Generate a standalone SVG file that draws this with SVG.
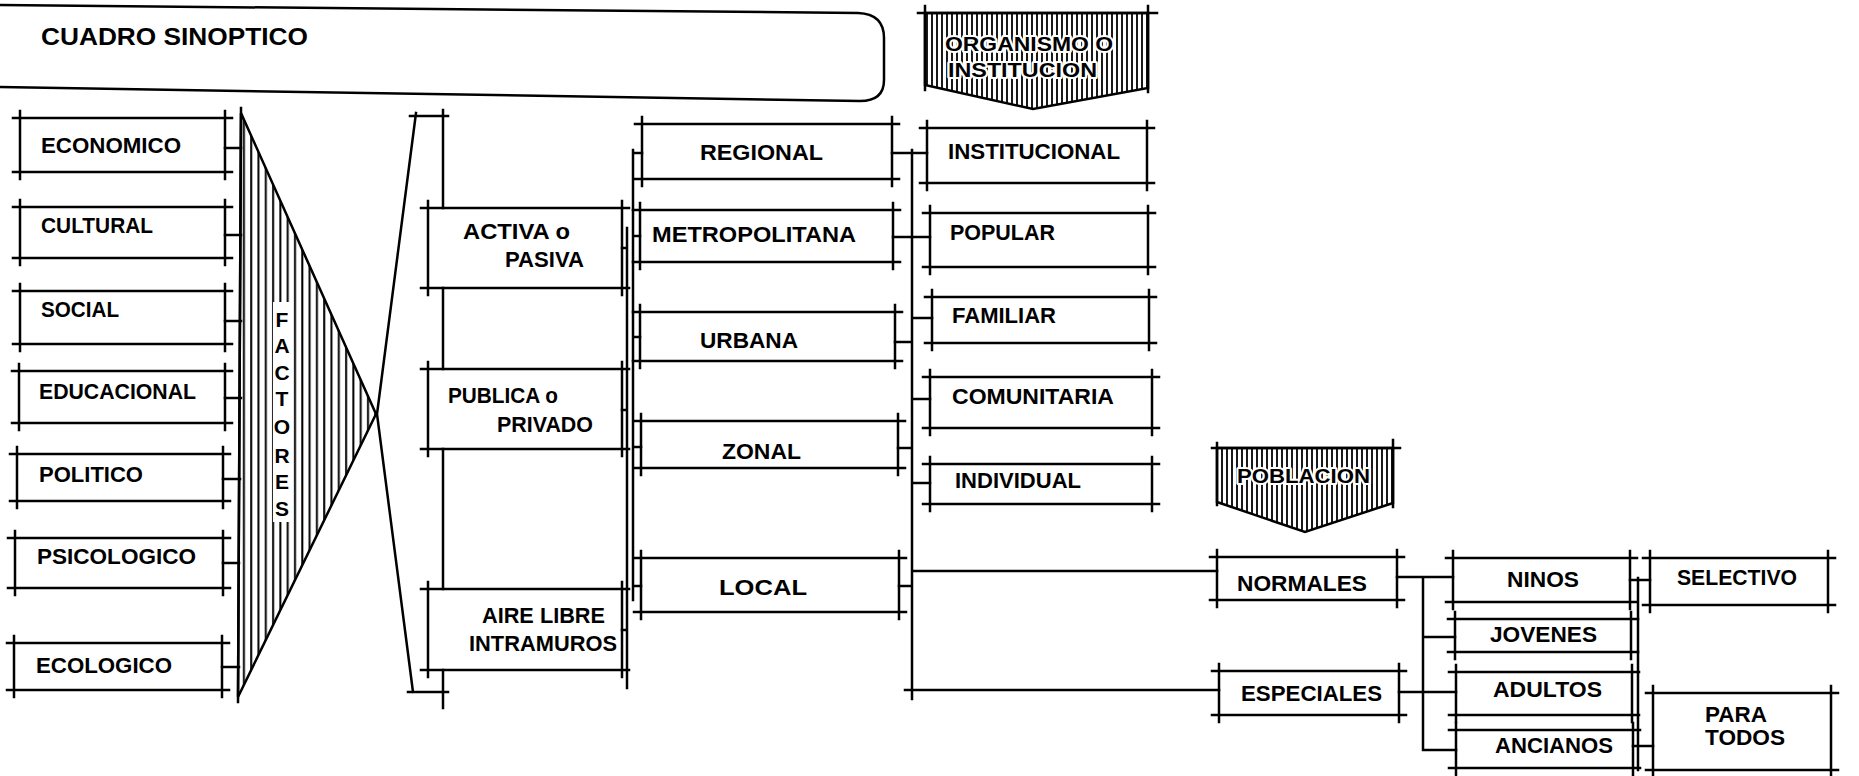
<svg xmlns="http://www.w3.org/2000/svg" width="1859" height="776" viewBox="0 0 1859 776">
<style>
.ln{fill:none;stroke:#000;stroke-width:2.5;stroke-linecap:square}
.t{font-family:"Liberation Sans",Arial,Helvetica,sans-serif;font-weight:bold;font-size:22px;fill:#000}
.ttl{font-size:24px}
.h{font-family:"Liberation Sans",Arial,Helvetica,sans-serif;font-weight:bold;font-size:20px;fill:#000;stroke:#fff;stroke-width:4;paint-order:stroke;stroke-linejoin:round}
.v{font-family:"Liberation Sans",Arial,Helvetica,sans-serif;font-weight:bold;font-size:21px;fill:#000;text-anchor:middle}
</style>
<defs>
<pattern id="hatchA" patternUnits="userSpaceOnUse" x="0" y="0" width="7.3" height="20">
<line x1="3" y1="0" x2="3" y2="20" stroke="#000" stroke-width="2"/>
</pattern>
<pattern id="hatchB" patternUnits="userSpaceOnUse" x="0" y="0" width="5" height="20">
<line x1="2" y1="0" x2="2" y2="20" stroke="#000" stroke-width="1.8"/>
</pattern>
</defs>
<rect width="1859" height="776" fill="#fff"/>

<g id="titulo">
<path class="ln" d="M0,5 L858,13 Q884,14 884,38 L884,80 Q884,101 860,101 L0,87"/>
<text class="t ttl" x="41" y="45" textLength="267" lengthAdjust="spacingAndGlyphs">CUADRO SINOPTICO</text>
</g>

<g id="connectors" class="ln">
<path d="M225,148H241M225,235H241M225,321H241M225,398H241M223,479H240M223,563H239M222,667H239"/>
<path d="M448,116H410M416,113L377,414L413,692M408,692H448"/>
<path d="M443,110V208M443,288V369M443,449V589M443,670V708"/>
<path d="M627,228V688M622,248H627M622,410H627M622,630H627"/>
<path d="M633,150V600M633,153H642M633,236H640M633,337H640M633,447H641M633,586H641"/>
<path d="M912,150V699M892,153H927M893,237H930M895,342H912M912,318H932M898,448H912M912,399H930M912,483H930M899,586H912M912,571H1217M905,690H1219"/>
<path d="M1423,577V750M1397,577H1453M1423,637H1455M1399,692H1456M1423,750H1456"/>
<path d="M1638,578V770M1630,580H1650M1633,746H1653"/>
</g>

<g id="factores">
<polygon points="241,113 376,414 238,697" fill="url(#hatchA)" stroke="#000" stroke-width="2.5" stroke-linejoin="miter"/>
<path class="ln" d="M241,108L238,702"/>
<rect x="273" y="302" width="18" height="220" fill="#fff"/>
<text class="v"><tspan x="282" y="327">F</tspan><tspan x="282" y="353">A</tspan><tspan x="282" y="380">C</tspan><tspan x="282" y="406">T</tspan><tspan x="282" y="434">O</tspan><tspan x="282" y="463">R</tspan><tspan x="282" y="489">E</tspan><tspan x="282" y="516">S</tspan></text>
</g>

<g id="economico"><path class="ln" d="M13,118H232M13,172H232M20,111V179M225,111V179"/><text class="t" x="41" y="153" textLength="140" lengthAdjust="spacingAndGlyphs">ECONOMICO</text></g>
<g id="cultural"><path class="ln" d="M13,207H232M13,258H232M20,200V265M225,200V265"/><text class="t" x="41" y="233" textLength="112" lengthAdjust="spacingAndGlyphs">CULTURAL</text></g>
<g id="social"><path class="ln" d="M13,291H232M13,344H232M20,284V351M225,284V351"/><text class="t" x="41" y="317" textLength="78" lengthAdjust="spacingAndGlyphs">SOCIAL</text></g>
<g id="educacional"><path class="ln" d="M12,371H232M12,423H232M19,364V430M225,364V430"/><text class="t" x="39" y="399" textLength="157" lengthAdjust="spacingAndGlyphs">EDUCACIONAL</text></g>
<g id="politico"><path class="ln" d="M10,454H230M10,501H230M17,447V508M223,447V508"/><text class="t" x="39" y="482" textLength="104" lengthAdjust="spacingAndGlyphs">POLITICO</text></g>
<g id="psicologico"><path class="ln" d="M8,538H230M8,588H230M15,531V595M223,531V595"/><text class="t" x="37" y="564" textLength="159" lengthAdjust="spacingAndGlyphs">PSICOLOGICO</text></g>
<g id="ecologico"><path class="ln" d="M7,643H229M7,690H229M14,636V697M222,636V697"/><text class="t" x="36" y="673" textLength="136" lengthAdjust="spacingAndGlyphs">ECOLOGICO</text></g>

<g id="activa"><path class="ln" d="M421,208H629M421,288H629M428,201V295M622,201V295"/><text class="t" x="463" y="239" textLength="107" lengthAdjust="spacingAndGlyphs">ACTIVA o</text><text class="t" x="505" y="267" textLength="79" lengthAdjust="spacingAndGlyphs">PASIVA</text></g>
<g id="publica"><path class="ln" d="M421,369H629M421,449H629M428,362V456M622,362V456"/><text class="t" x="448" y="403" textLength="110" lengthAdjust="spacingAndGlyphs">PUBLICA o</text><text class="t" x="497" y="432" textLength="96" lengthAdjust="spacingAndGlyphs">PRIVADO</text></g>
<g id="aire"><path class="ln" d="M421,589H629M421,670H629M428,582V677M622,582V677"/><text class="t" x="482" y="623" textLength="123" lengthAdjust="spacingAndGlyphs">AIRE LIBRE</text><text class="t" x="469" y="651" textLength="148" lengthAdjust="spacingAndGlyphs">INTRAMUROS</text></g>

<g id="regional"><path class="ln" d="M635,124H899M635,179H899M642,117V186M892,117V186"/><text class="t" x="700" y="160" textLength="123" lengthAdjust="spacingAndGlyphs">REGIONAL</text></g>
<g id="metropolitana"><path class="ln" d="M633,210H900M633,262H900M640,203V269M893,203V269"/><text class="t" x="652" y="242" textLength="204" lengthAdjust="spacingAndGlyphs">METROPOLITANA</text></g>
<g id="urbana"><path class="ln" d="M633,312H902M633,361H902M640,305V368M895,305V368"/><text class="t" x="700" y="348" textLength="98" lengthAdjust="spacingAndGlyphs">URBANA</text></g>
<g id="zonal"><path class="ln" d="M634,421H905M634,468H905M641,414V475M898,414V475"/><text class="t" x="722" y="459" textLength="79" lengthAdjust="spacingAndGlyphs">ZONAL</text></g>
<g id="local"><path class="ln" d="M634,558H906M634,612H906M641,551V619M899,551V619"/><text class="t" x="719" y="595" textLength="88" lengthAdjust="spacingAndGlyphs">LOCAL</text></g>

<g id="organismo">
<polygon points="925,13 1148,13 1148,88 1033,109 925,85" fill="url(#hatchB)" stroke="#000" stroke-width="2.5"/>
<path class="ln" d="M918,13H1157M925,6V90M1148,6V92"/>
<text class="h" x="945" y="51" textLength="168" lengthAdjust="spacingAndGlyphs">ORGANISMO O</text>
<text class="h" x="948" y="77" textLength="149" lengthAdjust="spacingAndGlyphs">INSTITUCION</text>
</g>

<g id="institucional"><path class="ln" d="M920,128H1154M920,183H1154M927,121V190M1147,121V190"/><text class="t" x="948" y="159" textLength="172" lengthAdjust="spacingAndGlyphs">INSTITUCIONAL</text></g>
<g id="popular"><path class="ln" d="M923,213H1155M923,267H1155M930,206V274M1148,206V274"/><text class="t" x="950" y="240" textLength="105" lengthAdjust="spacingAndGlyphs">POPULAR</text></g>
<g id="familiar"><path class="ln" d="M925,297H1156M925,343H1156M932,290V350M1149,290V350"/><text class="t" x="952" y="323" textLength="104" lengthAdjust="spacingAndGlyphs">FAMILIAR</text></g>
<g id="comunitaria"><path class="ln" d="M923,377H1159M923,428H1159M930,370V435M1152,370V435"/><text class="t" x="952" y="404" textLength="162" lengthAdjust="spacingAndGlyphs">COMUNITARIA</text></g>
<g id="individual"><path class="ln" d="M923,464H1159M923,504H1159M930,457V511M1152,457V511"/><text class="t" x="955" y="488" textLength="126" lengthAdjust="spacingAndGlyphs">INDIVIDUAL</text></g>

<g id="poblacion">
<polygon points="1217,448 1393,448 1393,503 1305,532 1217,502" fill="url(#hatchB)" stroke="#000" stroke-width="2.5"/>
<path class="ln" d="M1212,448H1400M1217,443V505M1393,440V507"/>
<text class="h" x="1237" y="483" textLength="133" lengthAdjust="spacingAndGlyphs">POBLACION</text>
</g>

<g id="normales"><path class="ln" d="M1210,557H1404M1210,600H1404M1217,550V607M1397,550V607"/><text class="t" x="1237" y="591" textLength="130" lengthAdjust="spacingAndGlyphs">NORMALES</text></g>
<g id="especiales"><path class="ln" d="M1212,671H1406M1212,715H1406M1219,664V722M1399,664V722"/><text class="t" x="1241" y="701" textLength="141" lengthAdjust="spacingAndGlyphs">ESPECIALES</text></g>
<g id="ninos"><path class="ln" d="M1446,558H1637M1446,602H1637M1453,551V609M1630,551V609"/><text class="t" x="1507" y="587" textLength="72" lengthAdjust="spacingAndGlyphs">NINOS</text></g>
<g id="jovenes"><path class="ln" d="M1448,619H1638M1448,652H1638M1455,612V659M1631,612V659"/><text class="t" x="1490" y="642" textLength="107" lengthAdjust="spacingAndGlyphs">JOVENES</text></g>
<g id="adultos"><path class="ln" d="M1449,672H1639M1449,715H1639M1456,665V722M1632,665V722"/><text class="t" x="1493" y="697" textLength="109" lengthAdjust="spacingAndGlyphs">ADULTOS</text></g>
<g id="ancianos"><path class="ln" d="M1449,730H1640M1449,768H1640M1456,723V775M1633,723V775"/><text class="t" x="1495" y="753" textLength="118" lengthAdjust="spacingAndGlyphs">ANCIANOS</text></g>
<g id="selectivo"><path class="ln" d="M1643,558H1835M1643,605H1835M1650,551V612M1828,551V612"/><text class="t" x="1677" y="585" textLength="120" lengthAdjust="spacingAndGlyphs">SELECTIVO</text></g>
<g id="para-todos"><path class="ln" d="M1646,693H1838M1646,770H1838M1653,686V777M1831,686V777"/><text class="t" x="1705" y="722" textLength="62" lengthAdjust="spacingAndGlyphs">PARA</text><text class="t" x="1705" y="745" textLength="80" lengthAdjust="spacingAndGlyphs">TODOS</text></g>
</svg>
